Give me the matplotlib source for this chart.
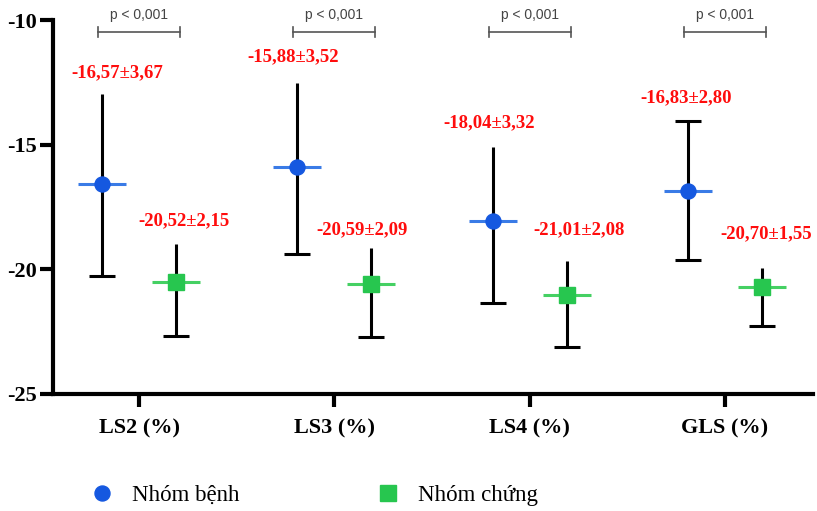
import numpy as np
import matplotlib
matplotlib.use('Agg')
import matplotlib.pyplot as plt
from matplotlib.lines import Line2D

plt.rcParams['axes.unicode_minus'] = False

categories = ['LS2 (%)', 'LS3 (%)', 'LS4 (%)', 'GLS (%)']
benh_mean = [-16.57, -15.88, -18.04, -16.83]
benh_sd = [3.67, 3.52, 3.32, 2.80]
benh_low = [-20.25, -19.39, -21.36, -19.63]
benh_high = [-12.96, -12.52, -15.09, -14.02]
chung_mean = [-20.52, -20.59, -21.01, -20.70]
chung_sd = [2.15, 2.09, 2.08, 1.55]
chung_low = [-22.68, -22.70, -23.13, -22.27]
chung_high = [-18.98, -19.15, -19.66, -19.93]
benh_top_cap = [False, False, False, True]
p_labels = ['p < 0,001', 'p < 0,001', 'p < 0,001', 'p < 0,001']
group_names = ['Nhóm bệnh', 'Nhóm chứng']

# label placement (offset from category, y in data units)
benh_lbl_dx = [-0.113, -0.211, -0.206, -0.20]
benh_lbl_y = [-12.11, -11.47, -14.12, -13.10]
chung_lbl_dx = [0.23, 0.142, 0.254, 0.213]
chung_lbl_y = [-18.04, -18.39, -18.39, -18.57]

blue = '#1558e0'
blue_line = '#3a7be6'
green = '#27c64f'
green_line = '#45d063'
red = '#ff0d0d'
serif = 'Liberation Serif'

x = np.arange(len(categories))
off = 0.19
xb = x - off
xg = x + off

fig = plt.figure(figsize=(8.17, 5.11), dpi=100)
ax = fig.add_axes([0.0645, 0.229, 0.9305, 0.731])

for xs, low, high in [(xb, benh_low, benh_high), (xg, chung_low, chung_high)]:
    ax.vlines(xs, low, high, color='black', lw=2.2, zorder=2)
    ax.plot(xs, low, ls='none', marker='_', ms=19.4, mew=2.2, color='black', zorder=2)

cap_x = [xv for xv, c in zip(xb, benh_top_cap) if c]
cap_y = [yv for yv, c in zip(benh_high, benh_top_cap) if c]
ax.plot(cap_x, cap_y, ls='none', marker='_', ms=19.4, mew=2.2, color='black', zorder=2)

# mean lines
ax.errorbar(xb, benh_mean, xerr=0.123, fmt='none', ecolor=blue_line, elinewidth=2.2, capsize=0, zorder=3)
ax.errorbar(xg, chung_mean, xerr=0.123, fmt='none', ecolor=green_line, elinewidth=2.2, capsize=0, zorder=3)
ax.plot(xb, benh_mean, ls='none', marker='o', ms=10.8, color=blue, zorder=4)
ax.plot(xg, chung_mean, ls='none', marker='s', ms=11.3, color=green, zorder=4)

def fmt(m, s):
    return f'{m:.2f}±{s:.2f}'.replace('.', ',')

for i in range(len(categories)):
    ax.text(x[i] + benh_lbl_dx[i], benh_lbl_y[i], fmt(benh_mean[i], benh_sd[i]),
            color=red, fontsize=13.5, fontweight='bold', family=serif,
            ha='center', va='center', clip_on=False)
    ax.text(x[i] + chung_lbl_dx[i], chung_lbl_y[i], fmt(chung_mean[i], chung_sd[i]),
            color=red, fontsize=13.5, fontweight='bold', family=serif,
            ha='center', va='center', clip_on=False)
    # p-value bracket
    x0, x1 = x[i] - 0.21, x[i] + 0.21
    ax.plot([x0, x1], [-10.47, -10.47], color='#555555', lw=1.2, clip_on=False)
    ax.plot([x0, x0], [-10.27, -10.67], color='#555555', lw=1.2, clip_on=False)
    ax.plot([x1, x1], [-10.27, -10.67], color='#555555', lw=1.2, clip_on=False)
    ax.text(x[i], -9.78, p_labels[i], color='#444444', fontsize=10,
            family='Liberation Sans', ha='center', va='center', clip_on=False)

ax.set_xlim(-0.442, 3.45)
ax.set_ylim(-25, -10)
ax.set_yticks([-25, -20, -15, -10])
ax.set_xticks(x)
ax.set_xticklabels(categories)
for s in ['top', 'right']:
    ax.spines[s].set_visible(False)
for s in ['left', 'bottom']:
    ax.spines[s].set_linewidth(3)
ax.tick_params(width=3, length=9.5, pad=2)
ax.tick_params(axis='x', pad=8)
for lbl in ax.get_yticklabels():
    lbl.set_fontfamily(serif)
    lbl.set_fontweight('bold')
    lbl.set_fontsize(16)
for lbl in ax.get_xticklabels():
    lbl.set_fontfamily(serif)
    lbl.set_fontweight('bold')
    lbl.set_fontsize(16)

handles = [
    Line2D([], [], ls='none', marker='o', ms=10.8, color=blue),
    Line2D([], [], ls='none', marker='s', ms=11.3, color=green),
]
fig.legend(handles, group_names, loc='center left', bbox_to_anchor=(0.111, 0.031),
           ncol=2, frameon=False, handlelength=1.0, handletextpad=0.8,
           columnspacing=6.0, borderpad=0, borderaxespad=0,
           prop={'family': serif, 'size': 16.5})

fig.savefig('out.png', dpi=100)
